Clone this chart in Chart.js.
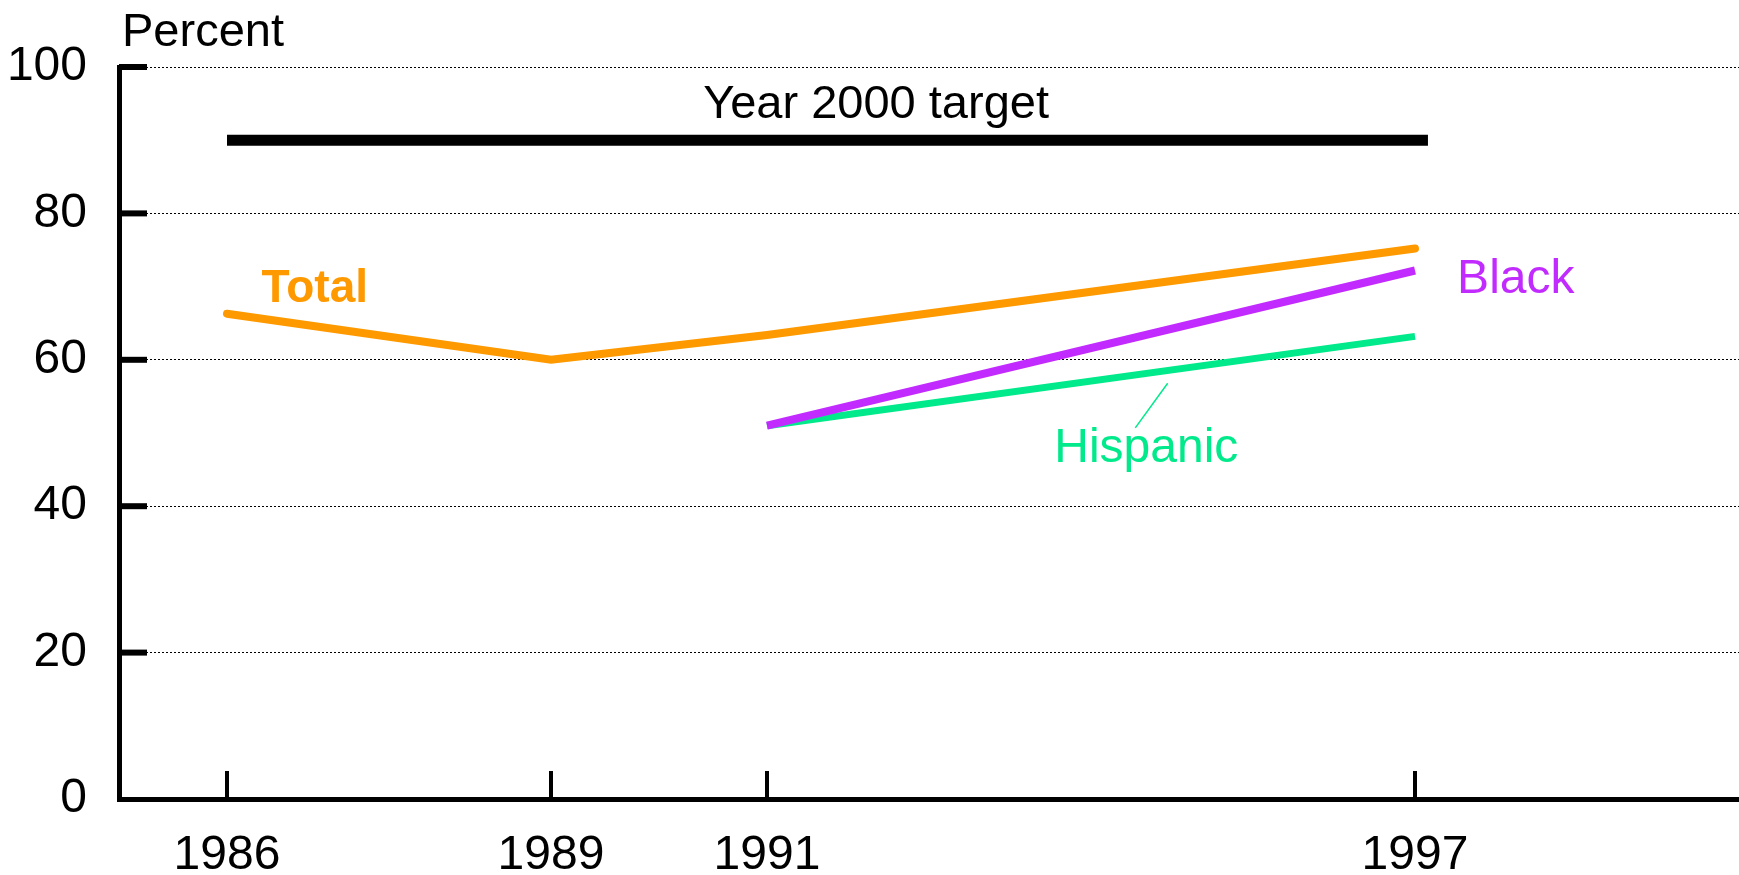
<!DOCTYPE html>
<html>
<head>
<meta charset="utf-8">
<script src="https://cdn.jsdelivr.net/npm/chart.js@4.4.1/dist/chart.umd.min.js"></script>
<style>
  html, body { margin: 0; padding: 0; background: #fff; }
</style>
</head>
<body>
<canvas id="chart" width="1739" height="875"></canvas>
<script>
// values
const totalYears = [1986, 1989, 1991, 1997]
const totalValues = [66.3, 60.0, 63.4, 75.2]
const blackYears = [1991, 1997]
const blackValues = [51.0, 72.2]
const hispanicYears = [1991, 1997]
const hispanicValues = [51.0, 63.2]
const targetYears = [1986, 1997.12]
const targetValues = [90, 90]
const xTicks = [1986, 1989, 1991, 1997]
const yTicks = [0, 20, 40, 60, 80, 100]

const FONT = "'Liberation Sans', Arial, sans-serif"
const ORANGE = '#FF9900'
const PURPLE = '#C22BFF'
const GREEN = '#00E98A'

// text placed in data coordinates
const notes = [
  { text: 'Year 2000 target', x: 1992.01, y: 93.0, color: '#000', align: 'center', weight: 'normal', size: 47 },
  { text: 'Total', x: 1986.32, y: 67.9, color: ORANGE, align: 'left', weight: 'bold', size: 46 },
  { text: 'Black', x: 1997.39, y: 69.1, color: PURPLE, align: 'left', weight: 'normal', size: 48 },
  { text: 'Hispanic', x: 1993.66, y: 46.0, color: GREEN, align: 'left', weight: 'normal', size: 48 }
]
const hispanicLeader = [[1994.41, 50.7], [1994.71, 56.8]]

const pts = (xs, ys) => xs.map((x, i) => ({ x: x, y: ys[i] }))

const axisMarks = {
  id: 'axisMarks',
  beforeDatasetsDraw(chart) {
    const { ctx, chartArea, scales: { x, y } } = chart
    ctx.save()
    ctx.strokeStyle = '#000'
    ctx.lineWidth = 6
    yTicks.forEach(v => {
      if (v === 0) return
      const py = y.getPixelForValue(v)
      ctx.beginPath()
      ctx.moveTo(chartArea.left, py)
      ctx.lineTo(chartArea.left + 28, py)
      ctx.stroke()
    })
    ctx.lineWidth = 4
    xTicks.forEach(v => {
      const px = x.getPixelForValue(v)
      ctx.beginPath()
      ctx.moveTo(px, chartArea.bottom)
      ctx.lineTo(px, chartArea.bottom - 28)
      ctx.stroke()
    })
    ctx.restore()
  }
}

const annotations = {
  id: 'annotations',
  afterDatasetsDraw(chart) {
    const { ctx, chartArea, scales: { x, y } } = chart
    ctx.save()
    ctx.textBaseline = 'alphabetic'
    ctx.fillStyle = '#000'
    ctx.textAlign = 'left'
    ctx.font = '47px ' + FONT
    ctx.fillText('Percent', chartArea.left + 3, 46)
    notes.forEach(n => {
      ctx.font = n.weight + ' ' + n.size + 'px ' + FONT
      ctx.fillStyle = n.color
      ctx.textAlign = n.align
      ctx.fillText(n.text, x.getPixelForValue(n.x), y.getPixelForValue(n.y))
    })
    ctx.strokeStyle = GREEN
    ctx.lineWidth = 1.5
    ctx.beginPath()
    ctx.moveTo(x.getPixelForValue(hispanicLeader[0][0]), y.getPixelForValue(hispanicLeader[0][1]))
    ctx.lineTo(x.getPixelForValue(hispanicLeader[1][0]), y.getPixelForValue(hispanicLeader[1][1]))
    ctx.stroke()
    ctx.restore()
  }
}

new Chart(document.getElementById('chart'), {
  type: 'line',
  data: {
    datasets: [
      {
        label: 'Year 2000 target',
        data: pts(targetYears, targetValues),
        borderColor: '#000',
        borderWidth: 11,
        borderCapStyle: 'butt'
      },
      {
        label: 'Total',
        data: pts(totalYears, totalValues),
        borderColor: ORANGE,
        borderWidth: 8,
        borderCapStyle: 'round',
        borderJoinStyle: 'miter'
      },
      {
        label: 'Black',
        data: pts(blackYears, blackValues),
        borderColor: PURPLE,
        borderWidth: 8,
        borderCapStyle: 'butt'
      },
      {
        label: 'Hispanic',
        data: pts(hispanicYears, hispanicValues),
        borderColor: GREEN,
        borderWidth: 7,
        borderCapStyle: 'butt'
      }
    ]
  },
  options: {
    responsive: false,
    devicePixelRatio: 1,
    animation: false,
    layout: { padding: { top: 67, left: 0, right: 0, bottom: 0 } },
    elements: { point: { radius: 0 }, line: { tension: 0 } },
    plugins: { legend: { display: false }, tooltip: { enabled: false } },
    scales: {
      x: {
        type: 'linear',
        min: 1985,
        max: 2000,
        afterBuildTicks: s => { s.ticks = xTicks.map(v => ({ value: v })) },
        afterFit: s => { s.height = 76 },
        ticks: {
          callback: v => String(v),
          autoSkip: false,
          maxRotation: 0,
          padding: 28,
          color: '#000',
          font: { family: FONT, size: 48 }
        },
        grid: { display: false, drawTicks: false },
        border: { display: true, width: 5, color: '#000' }
      },
      y: {
        min: 0,
        max: 100,
        afterBuildTicks: s => { s.ticks = yTicks.map(v => ({ value: v })) },
        afterFit: s => { s.width = 119 },
        ticks: {
          padding: 32,
          color: '#000',
          font: { family: FONT, size: 48 }
        },
        grid: { color: '#000', lineWidth: 1, drawTicks: false },
        border: { display: true, width: 5, color: '#000', dash: [2, 2] }
      }
    }
  },
  plugins: [axisMarks, annotations]
})
</script>
</body>
</html>
